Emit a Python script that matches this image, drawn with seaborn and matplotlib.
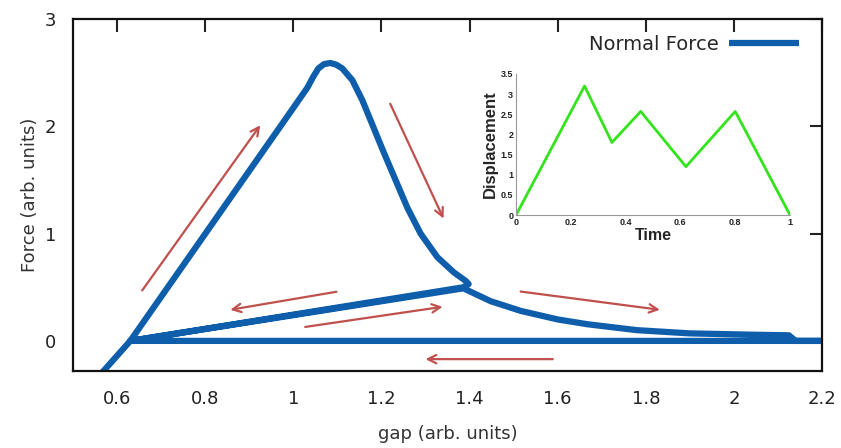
import matplotlib
matplotlib.use("Agg")
import pandas as pd
import seaborn as sns
import matplotlib.pyplot as plt
from matplotlib.ticker import MultipleLocator, FuncFormatter

# curva principal: gap vs fuerza normal
gap = [0.565, 0.63, 0.993, 1.032, 1.045, 1.057, 1.07, 1.084, 1.097, 1.111,
       1.134, 1.157, 1.18, 1.205, 1.232, 1.259, 1.289, 1.327, 1.364, 1.391,
       1.398, 1.386,
       0.63,
       1.386, 1.448, 1.516, 1.60, 1.668, 1.78, 1.90, 2.04, 2.125, 2.14, 2.2,
       0.63]
force = [-0.30, 0.0, 2.13, 2.36, 2.46, 2.54, 2.58, 2.59, 2.575, 2.54,
         2.43, 2.24, 2.01, 1.76, 1.50, 1.24, 1.00, 0.78, 0.64, 0.56,
         0.53, 0.50,
         0.0,
         0.49, 0.37, 0.28, 0.20, 0.155, 0.10, 0.07, 0.058, 0.052, 0.0, 0.0,
         0.0]

# flechas (cola -> punta)
arrow_tail_x = [0.657, 1.220, 1.098, 1.027, 1.516, 1.589]
arrow_tail_y = [0.47, 2.21, 0.458, 0.13, 0.46, -0.17]
arrow_head_x = [0.925, 1.341, 0.857, 1.339, 1.832, 1.30]
arrow_head_y = [2.01, 1.14, 0.29, 0.318, 0.29, -0.17]

# inset: desplazamiento vs tiempo
time = [0.0, 0.25, 0.35, 0.455, 0.62, 0.8, 1.0]
displacement = [0.0, 3.2, 1.8, 2.57, 1.2, 2.57, 0.0]

xticks = [0.6, 0.8, 1.0, 1.2, 1.4, 1.6, 1.8, 2.0, 2.2]
yticks = [0, 1, 2, 3]

sns.set_style("white")
plt.rcParams['font.family'] = ['DejaVu Sans']

df = pd.DataFrame({'gap': gap, 'force': force, 'serie': 'Normal Force'})
df_ins = pd.DataFrame({'time': time, 'disp': displacement})

fig = plt.figure(figsize=(8.41, 4.48), dpi=100)
ax = fig.add_axes([0.0868, 0.172, 0.8906, 0.7856])

blue = '#0f5eac'
sns.lineplot(data=df, x='gap', y='force', sort=False, estimator=None,
             color=blue, linewidth=4.5, label='Normal Force', ax=ax)
for line in ax.get_lines():
    line.set_solid_capstyle('round')
    line.set_solid_joinstyle('round')

for tx, ty, hx, hy in zip(arrow_tail_x, arrow_tail_y, arrow_head_x, arrow_head_y):
    ax.annotate('', xy=(hx, hy), xytext=(tx, ty),
                arrowprops=dict(arrowstyle='->,head_length=0.6,head_width=0.3',
                                color='#c0504d', lw=1.6, shrinkA=0, shrinkB=0))

ax.set_xlim(0.5, 2.2)
ax.set_ylim(-0.28, 3)
ax.set_xticks(xticks)
ax.set_yticks(yticks)
ax.xaxis.set_major_formatter(FuncFormatter(lambda v, p: f"{v:g}"))
ax.tick_params(direction='in', length=9, width=1.5, top=True, right=True,
               labelsize=13, colors='#222222')
ax.tick_params(axis='x', pad=14)
ax.tick_params(axis='y', pad=12)
for s in ax.spines.values():
    s.set_linewidth(1.6)
    s.set_color('#111111')
ax.set_xlabel('gap (arb. units)', fontsize=13, color='#333333', labelpad=12)
ax.set_ylabel('Force (arb. units)', fontsize=13, color='#333333', labelpad=4)

leg = ax.legend(loc='upper right', frameon=False, markerfirst=False,
                fontsize=14, handlelength=3.6, borderaxespad=0.4,
                handletextpad=0.5, bbox_to_anchor=(0.99, 1.0))
for h in leg.get_lines():
    h.set_linewidth(4.5)
    h.set_solid_capstyle('butt')

# inset
axi = fig.add_axes([0.6136, 0.520, 0.3258, 0.315])
sns.lineplot(data=df_ins, x='time', y='disp', sort=False, color='#33e41c',
             linewidth=2.0, ax=axi)
axi.set_xlim(0, 1)
axi.set_ylim(0, 3.5)
axi.xaxis.set_major_locator(MultipleLocator(0.2))
axi.xaxis.set_minor_locator(MultipleLocator(0.1))
axi.yaxis.set_major_locator(MultipleLocator(0.5))
axi.yaxis.set_minor_locator(MultipleLocator(0.25))
axi.xaxis.set_major_formatter(FuncFormatter(lambda v, p: f"{v:g}"))
axi.yaxis.set_major_formatter(FuncFormatter(lambda v, p: f"{v:g}"))
axi.tick_params(which='major', direction='in', length=3, width=0.6,
                labelsize=6.5, pad=2, colors='#222222')
axi.tick_params(which='minor', direction='in', length=2, width=0.5,
                colors='#888888')
for lab in axi.get_xticklabels() + axi.get_yticklabels():
    lab.set_fontweight('bold')
    lab.set_family('Liberation Sans')
axi.spines['top'].set_visible(False)
axi.spines['right'].set_visible(False)
for s in ['left', 'bottom']:
    axi.spines[s].set_color('#999999')
    axi.spines[s].set_linewidth(0.8)
axi.patch.set_alpha(0)
axi.set_xlabel('Time', fontsize=11.5, fontweight='bold',
               family='Liberation Sans', labelpad=1)
axi.set_ylabel('Displacement', fontsize=12, fontweight='bold',
               family='Liberation Sans', labelpad=2)

fig.savefig('out.png', dpi=100)
